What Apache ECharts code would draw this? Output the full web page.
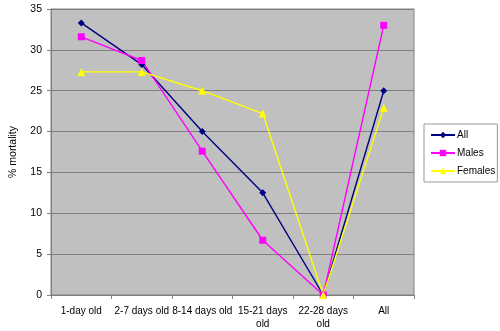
<!DOCTYPE html>
<html><head><meta charset="utf-8">
<script src="https://cdn.jsdelivr.net/npm/echarts@6/dist/echarts.min.js"></script>
<style>html,body{margin:0;padding:0;background:#fff}#c{width:500px;height:331px}</style>
</head><body><div id="c"></div>
<script>
const categories = ['1-day old', '2-7 days old', '8-14 days old', '15-21 days\nold', '22-28 days\nold', 'All'];
const allValues = [33.3, 28.2, 20, 12.5, 0, 25];
const maleValues = [31.6, 28.7, 17.6, 6.7, 0, 33];
const femaleValues = [27.3, 27.3, 25, 22.2, 0, 22.9];
const yTicks = { min: 0, max: 35, interval: 5 };

const font = '"Liberation Sans", Arial, sans-serif';
const chart = echarts.init(document.getElementById('c'), null, { renderer: 'canvas' });
function mk(name, data, color, symbol, size) {
  return {
    name, type: 'line', data, symbol, symbolSize: size, showSymbol: true,
    lineStyle: { color, width: 1.4 }, itemStyle: { color, borderWidth: 0 },
    animation: false, z: 3
  };
}
chart.setOption({
  animation: false,
  grid: { left: 45, right: 86, top: 9, bottom: 33, show: true, backgroundColor: '#C0C0C0', borderColor: '#808080', borderWidth: 1 },
  legend: {
    orient: 'vertical', left: 424, top: 124,
    backgroundColor: '#fff', borderColor: '#999', borderWidth: 1, borderRadius: 0,
    padding: [5, 2, 5, 6], itemGap: 6, itemWidth: 24, itemHeight: 8,
    textStyle: { fontFamily: font, fontSize: 10, color: '#000', lineHeight: 12, padding: [0, 0, 0, -3] },
    data: ['All', 'Males', 'Females']
  },
  xAxis: {
    type: 'category', data: categories, boundaryGap: true,
    axisLine: { lineStyle: { color: '#808080', width: 1 } },
    axisTick: { show: true, length: 4, lineStyle: { color: '#808080' } },
    axisLabel: { fontFamily: font, fontSize: 10, color: '#000', margin: 10, lineHeight: 13, interval: 0 },
    splitLine: { show: false }
  },
  yAxis: {
    type: 'value', min: yTicks.min, max: yTicks.max, interval: yTicks.interval,
    name: '% mortality', nameLocation: 'middle', nameGap: 32, nameRotate: 90,
    nameTextStyle: { fontFamily: font, fontSize: 10.5, color: '#000' },
    axisLine: { show: true, lineStyle: { color: '#808080', width: 1 } },
    axisTick: { show: true, length: 4, lineStyle: { color: '#808080' } },
    axisLabel: { fontFamily: font, fontSize: 10.5, color: '#000', margin: 9 },
    splitLine: { show: true, lineStyle: { color: '#808080', width: 1 } }
  },
  series: [
    mk('All', allValues, '#000080', 'diamond', 7),
    mk('Males', maleValues, '#FF00FF', 'rect', 7),
    mk('Females', femaleValues, '#FFFF00', 'triangle', 8)
  ]
});
</script></body></html>
